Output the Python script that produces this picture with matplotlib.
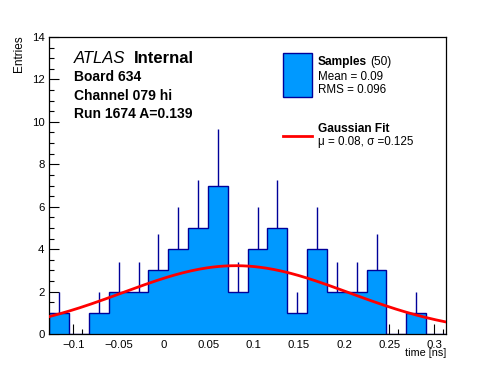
import matplotlib

matplotlib.use("Agg")
import matplotlib.pyplot as plt
import numpy as np
from matplotlib.patches import Rectangle
from matplotlib.lines import Line2D
from matplotlib.ticker import MultipleLocator, FuncFormatter

# histogram: 20 bins over the plotted time range
x_lo, x_hi = -0.1266, 0.3130
n_bins = 20
counts = [1, 0, 1, 2, 2, 3, 4, 5, 7, 2, 4, 5, 1, 4, 2, 2, 3, 0, 1, 0]

# gaussian fit parameters
fit_amp = 3.22
fit_mu = 0.08
fit_sigma = 0.125

FILL = "#0099ff"
EDGE = "#000099"

plt.rcParams["font.family"] = ["Liberation Sans", "DejaVu Sans"]
plt.rcParams["axes.unicode_minus"] = True

fig = plt.figure(figsize=(4.96, 3.72), dpi=100)
ax = fig.add_axes([49.3 / 496, 38 / 372, (446 - 49.3) / 496, (334 - 37) / 372])

edges = np.linspace(x_lo, x_hi, n_bins + 1)
vals = np.array(counts, dtype=float)
centres = 0.5 * (edges[:-1] + edges[1:])

ax.stairs(vals, edges, fill=True, facecolor=FILL, edgecolor=EDGE, linewidth=1.0, zorder=2)

# upward poisson error bars
nz = vals > 0
ax.vlines(centres[nz], vals[nz], vals[nz] + np.sqrt(vals[nz]), color=EDGE, lw=1.0, zorder=3)

# gaussian fit curve
xf = np.linspace(x_lo, x_hi, 200)
ax.plot(xf, fit_amp * np.exp(-0.5 * ((xf - fit_mu) / fit_sigma) ** 2), color="#ff0000", lw=2.0, zorder=4)

ax.set_xlim(x_lo, x_hi)
ax.set_ylim(0, 14)

ax.xaxis.set_major_locator(MultipleLocator(0.05))
ax.xaxis.set_minor_locator(MultipleLocator(0.01))
ax.yaxis.set_major_locator(MultipleLocator(2))
ax.yaxis.set_minor_locator(MultipleLocator(0.5))
ax.xaxis.set_major_formatter(FuncFormatter(lambda v, _: f"{v:g}".replace("-", "\u2212") if abs(v) > 1e-9 else "0"))
ax.yaxis.set_major_formatter(FuncFormatter(lambda v, _: f"{v:g}"))

ax.tick_params(axis="both", which="both", direction="in", top=False, right=False,
               labelsize=8.2, width=0.8, color="black")
ax.tick_params(axis="both", which="major", length=7.5)
ax.tick_params(axis="both", which="minor", length=3.8)
ax.tick_params(axis="x", which="major", pad=4)
ax.tick_params(axis="y", which="major", pad=3.5)
for sp in ax.spines.values():
    sp.set_linewidth(0.9)

fig.text(19.3 / 496, (372 - 35) / 372, "Entries", rotation=90, ha="center", va="top", fontsize=8.5)
fig.text(446 / 496, (372 - 356.5) / 372, "time [ns]", ha="right", va="baseline", fontsize=7.8)

# ATLAS label block
def ftxt(px, py, s, **kw):
    fig.text(px / 496, (372 - py) / 372, s, va="baseline", **kw)

ftxt(74, 63.3, "ATLAS", fontsize=12, style="italic")
ftxt(134.3, 63.3, "Internal", fontsize=12, weight="bold")
ftxt(74, 81, "Board 634", fontsize=10, weight="bold")
ftxt(74, 100, "Channel 079 hi", fontsize=10, weight="bold")
ftxt(74, 118.3, "Run 1674 A=0.139", fontsize=10, weight="bold")

# legend drawn by hand
fig.patches.append(Rectangle((283.3 / 496, (372 - 96.7) / 372), 28.4 / 496, 43.4 / 372,
                             transform=fig.transFigure, facecolor=FILL, edgecolor=EDGE, lw=1.0))
fig.lines.append(Line2D([283 / 496, 312 / 496], [(372 - 136) / 372] * 2,
                       transform=fig.transFigure, color="#ff0000", lw=2.0))
ftxt(317.7, 65, "Samples", fontsize=8.6, weight="bold")
ftxt(370, 65, "(50)", fontsize=8.6)
ftxt(317.7, 80, "Mean = 0.09", fontsize=8.4)
ftxt(317.7, 93, "RMS = 0.096", fontsize=8.4)
ftxt(317.7, 131.7, "Gaussian Fit", fontsize=8.6, weight="bold")
ftxt(317.7, 145, "\u03bc = 0.08, \u03c3 =0.125", fontsize=8.4)

fig.savefig("out.png", dpi=100)
